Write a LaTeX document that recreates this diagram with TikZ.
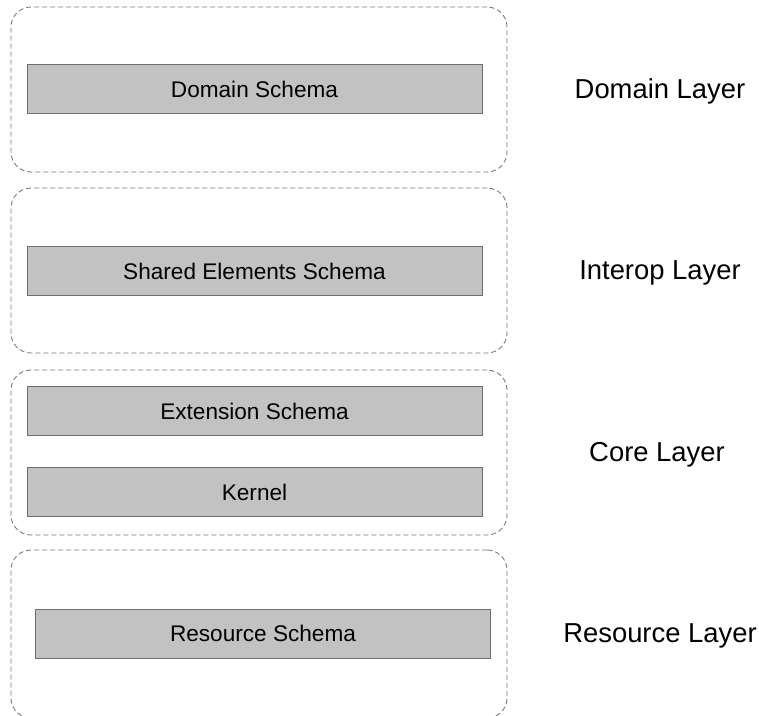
\documentclass[tikz,border=0pt]{standalone}
\usepackage{fontspec}
\setmainfont{Liberation Sans}
\usepackage{xcolor}
\usepackage{tikz}
\usetikzlibrary{positioning}

\definecolor{dashgray}{HTML}{7A7A7A}
\definecolor{boxfill}{HTML}{C2C2C2}
\definecolor{boxedge}{HTML}{6E6E6E}

\begin{document}
\begin{tikzpicture}[x=1pt, y=-1pt,
    layerbox/.style={rectangle, draw=dashgray, dash pattern=on 5pt off 3pt, line width=0.9pt, rounded corners=20pt, minimum width=496pt, inner sep=0pt},
    schemabox/.style={rectangle, draw=boxedge, fill=boxfill, line width=1pt, minimum width=455pt, minimum height=49pt, inner sep=0pt, font=\fontsize{22.6}{27}\selectfont},
    layerlabel/.style={font=\fontsize{27.4}{32}\selectfont}]

\useasboundingbox (0,0) rectangle (759,715);

% dashed layer frames
\node[layerbox, minimum height=165pt] (domainframe) at (259, 89.5) {};
\node[layerbox, minimum height=165pt] (interopframe) at (259, 270.5) {};
\node[layerbox, minimum height=165pt] (coreframe) at (259, 452.5) {};
\node[layerbox, minimum height=168pt] (resourceframe) at (259, 634) {};

% schema boxes
\node[schemabox] (domainschema) at (254.5, 89) {Domain Schema};
\node[schemabox] (sharedschema) at (254.5, 271) {Shared Elements Schema};
\node[schemabox] (extschema) at (254.5, 411) {Extension Schema};
\node[schemabox] (kernel) at (254.5, 492) {Kernel};
\node[schemabox] (resschema) at (263, 633.5) {Resource Schema};

% layer labels
\node[layerlabel] (domainlabel) at (660, 91) {Domain Layer};
\node[layerlabel] (interoplabel) at (660, 273) {Interop Layer};
\node[layerlabel] (corelabel) at (657, 455) {Core Layer};
\node[layerlabel] (resourcelabel) at (660, 636) {Resource Layer};

\end{tikzpicture}
\end{document}
